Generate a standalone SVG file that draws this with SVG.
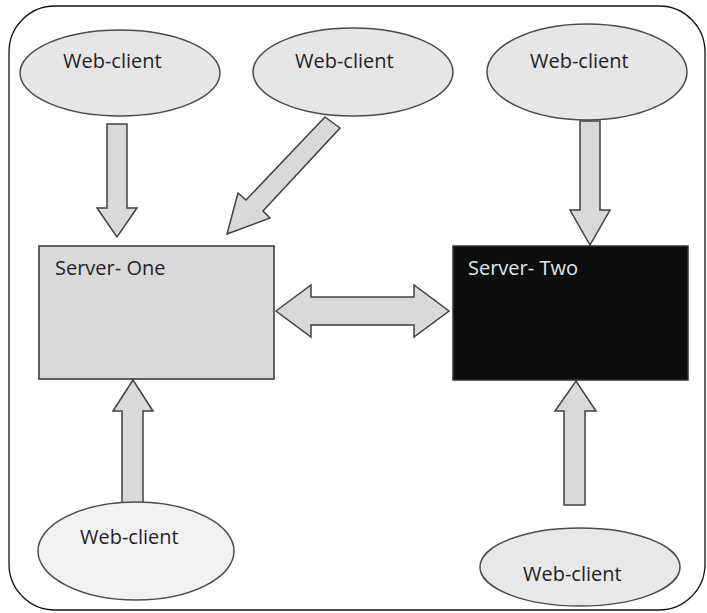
<svg xmlns="http://www.w3.org/2000/svg" width="707" height="613" viewBox="0 0 707 613">
  <style>
    .client { fill: #e6e6e6; stroke: #4a4a4a; stroke-width: 1.5; }
    .label { font-family: "Open Sans", "Noto Sans", sans-serif; font-size: 20px; fill: #1f1f2a; }
    .arrow { fill: #d9d9d9; stroke: #404040; stroke-width: 1.5; stroke-linejoin: miter; }
  </style>
  <rect width="707" height="613" fill="#ffffff"/>
  <!-- outer frame -->
  <rect x="9" y="6" width="696" height="604" rx="46" ry="46" fill="none" stroke="#111" stroke-width="1.3"/>

  <g id="connectors">
    <!-- top-left client to Server One -->
    <polygon class="arrow" points="107,124 127,124 127,208 137,208 117,237 97,208 107,208"/>
    <!-- top-middle client to Server One (diagonal) -->
    <polygon class="arrow" points="325,117 340,128 263,211 270,218 227,234 238,193 246,200"/>
    <!-- top-right client to Server Two -->
    <polygon class="arrow" points="580,121 600,121 600,210 610,210 590,245 570,210 580,210"/>
    <!-- Server One to Server Two -->
    <polygon class="arrow" points="276,311 311,285 311,297 414,297 414,285 449,311 414,337 414,325 311,325 311,337"/>
    <!-- bottom-left client to Server One -->
    <polygon class="arrow" points="122,503 122,411 113,411 133,380 153,411 143,411 143,503"/>
    <!-- bottom-right client to Server Two -->
    <polygon class="arrow" points="564,505 564,411 555,411 576,381 596,411 585,411 585,505"/>
  </g>

  <g id="client-top-left">
    <ellipse class="client" cx="120" cy="73" rx="100" ry="43"/>
    <text class="label" x="63" y="68">Web-client</text>
  </g>
  <g id="client-top-middle">
    <ellipse class="client" cx="353" cy="72" rx="100" ry="44"/>
    <text class="label" x="295" y="68">Web-client</text>
  </g>
  <g id="client-top-right">
    <ellipse class="client" cx="587" cy="72" rx="100" ry="48"/>
    <text class="label" x="530" y="68">Web-client</text>
  </g>

  <g id="server-one">
    <rect x="39" y="246" width="235" height="133" fill="#d9d9d9" stroke="#333" stroke-width="1.5"/>
    <text class="label" x="55" y="275">Server- One</text>
  </g>
  <g id="server-two">
    <rect x="453" y="246" width="235" height="134" fill="#0d0d0d" stroke="#333" stroke-width="1.5"/>
    <text class="label" x="468" y="275" style="fill:#dfe8f0">Server- Two</text>
  </g>

  <g id="client-bottom-left">
    <ellipse class="client" cx="136" cy="551" rx="98" ry="49" style="fill:#f2f2f2"/>
    <text class="label" x="80" y="544">Web-client</text>
  </g>
  <g id="client-bottom-right">
    <ellipse class="client" cx="580" cy="567" rx="100" ry="39" style="fill:#e8e8e8"/>
    <text class="label" x="523" y="581">Web-client</text>
  </g>
</svg>
